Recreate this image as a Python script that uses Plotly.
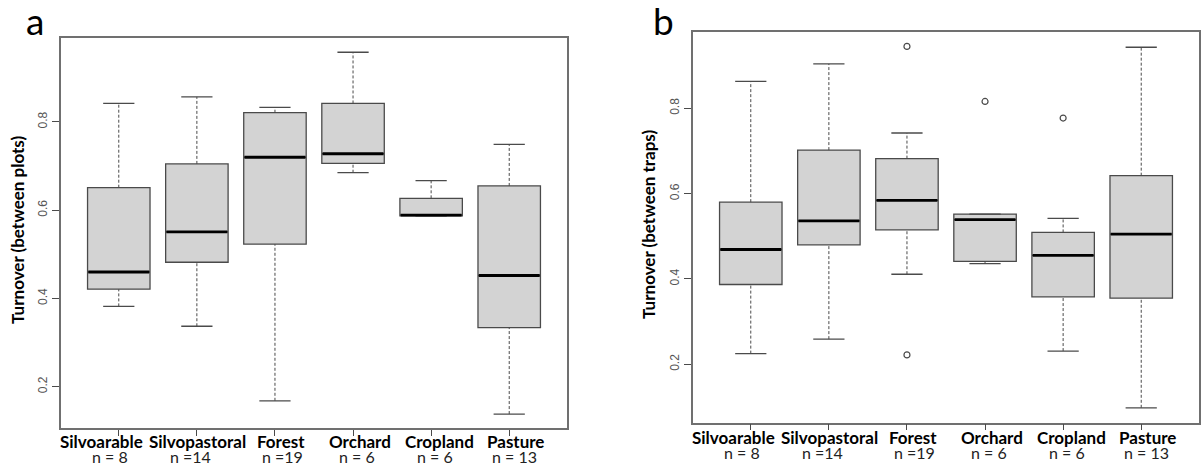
import plotly.graph_objects as go

# ---------------- data ----------------
categories = ["Silvoarable", "Silvopastoral", "Forest", "Orchard", "Cropland", "Pasture"]
n_labels = ["n = 8", "n =14", "n =19", "n = 6", "n = 6", "n = 13"]

# panel a: turnover between plots
a_lower = [0.382, 0.337, 0.168, 0.685, 0.587, 0.138]
a_q1 = [0.421, 0.482, 0.523, 0.706, 0.587, 0.334]
a_median = [0.460, 0.551, 0.720, 0.728, 0.589, 0.452]
a_q3 = [0.651, 0.705, 0.821, 0.842, 0.627, 0.655]
a_upper = [0.842, 0.857, 0.833, 0.958, 0.667, 0.749]

# panel b: turnover between traps
b_lower = [0.225, 0.259, 0.411, 0.436, 0.231, 0.098]
b_q1 = [0.387, 0.480, 0.515, 0.441, 0.358, 0.355]
b_median = [0.469, 0.536, 0.584, 0.539, 0.455, 0.505]
b_q3 = [0.580, 0.702, 0.682, 0.552, 0.509, 0.642]
b_upper = [0.863, 0.904, 0.742, 0.552, 0.542, 0.943]
b_out_cat = ["Forest", "Forest", "Orchard", "Cropland"]
b_out_val = [0.945, 0.222, 0.816, 0.777]

y_ticks = [0.2, 0.4, 0.6, 0.8]

# ---------------- styling ----------------
W, H = 1201, 463
BOX_W = 0.8
CAP_HALF = 0.2
EDGE = "#4a4a4a"
FILL = "#d3d3d3"
FRAME = "#707070"
LABEL_FONT = "Lato"

pos = list(range(1, len(categories) + 1))

fig = go.Figure()


def add_panel(xa, ya, lower, q1, med, q3, upper, out_cat=None, out_val=None):
    # dashed whiskers
    wx, wy = [], []
    for p, lo, a, b, hi in zip(pos, lower, q1, q3, upper):
        wx += [p, p, None, p, p, None]
        wy += [b, hi, None, lo, a, None]
    fig.add_trace(go.Scatter(x=wx, y=wy, mode="lines", xaxis=xa, yaxis=ya,
                             line=dict(color=EDGE, width=1, dash="3px,2px"),
                             hoverinfo="skip", showlegend=False))
    # caps
    cx, cy = [], []
    for p, lo, hi in zip(pos, lower, upper):
        cx += [p - CAP_HALF, p + CAP_HALF, None, p - CAP_HALF, p + CAP_HALF, None]
        cy += [hi, hi, None, lo, lo, None]
    fig.add_trace(go.Scatter(x=cx, y=cy, mode="lines", xaxis=xa, yaxis=ya,
                             line=dict(color=EDGE, width=1.3),
                             hoverinfo="skip", showlegend=False))
    # boxes
    fig.add_trace(go.Box(x=pos, q1=q1, median=med, q3=q3, lowerfence=q1, upperfence=q3,
                         width=BOX_W, xaxis=xa, yaxis=ya, fillcolor=FILL,
                         line=dict(color=EDGE, width=1.3), boxpoints=False,
                         showlegend=False, hoverinfo="skip"))
    # medians
    mx, my = [], []
    for p, m in zip(pos, med):
        mx += [p - BOX_W / 2 + 0.01, p + BOX_W / 2 - 0.01, None]
        my += [m, m, None]
    fig.add_trace(go.Scatter(x=mx, y=my, mode="lines", xaxis=xa, yaxis=ya,
                             line=dict(color="black", width=2.8),
                             hoverinfo="skip", showlegend=False))
    if out_cat:
        fig.add_trace(go.Scatter(x=[categories.index(c) + 1 for c in out_cat], y=out_val,
                                 mode="markers", xaxis=xa, yaxis=ya,
                                 marker=dict(symbol="circle-open", size=6,
                                             color=EDGE, line=dict(width=1.2, color=EDGE)),
                                 hoverinfo="skip", showlegend=False))


add_panel("x", "y", a_lower, a_q1, a_median, a_q3, a_upper)
add_panel("x2", "y2", b_lower, b_q1, b_median, b_q3, b_upper, b_out_cat, b_out_val)

# panel geometry in pixels
panels = {
    "a": dict(x0=61, x1=567, top=37.7, bottom=428.3, yr=[0.1057, 0.991]),
    "b": dict(x0=693, x1=1199, top=32.3, bottom=422.7, yr=[0.0631, 0.978]),
}

xcommon = dict(range=[0.26, 6.74], tickvals=pos, showticklabels=False, ticks="outside",
               ticklen=6, tickcolor=EDGE, tickwidth=1.2, showline=True, mirror=True,
               linecolor=FRAME, linewidth=1.5, showgrid=False, zeroline=False,
               fixedrange=True)
ycommon = dict(tickvals=y_ticks, ticktext=[f"{v:.1f}" for v in y_ticks], ticks="outside",
               ticklen=7, tickcolor=EDGE, tickwidth=1.2, tickangle=-90,
               tickfont=dict(family="Liberation Sans", size=12, color="#555555"),
               showline=True, mirror=True, linecolor=FRAME, linewidth=1.5,
               showgrid=False, zeroline=False, fixedrange=True)

pa, pb = panels["a"], panels["b"]
fig.update_layout(
    width=W, height=H, margin=dict(l=0, r=0, t=0, b=0),
    paper_bgcolor="white", plot_bgcolor="white",
    xaxis=dict(domain=[pa["x0"] / W, pa["x1"] / W], anchor="y", **xcommon),
    yaxis=dict(domain=[1 - pa["bottom"] / H, 1 - pa["top"] / H], anchor="x",
               range=pa["yr"], **ycommon),
    xaxis2=dict(domain=[pb["x0"] / W, pb["x1"] / W], anchor="y2", **xcommon),
    yaxis2=dict(domain=[1 - pb["bottom"] / H, 1 - pb["top"] / H], anchor="x2",
                range=pb["yr"], **ycommon),
)

name_shift = [-17, 1, 6, 7, 8, 6]
n_shift = [-9, -6, 8, 4, 4, 5]
ann = []
for xa, name_y, n_y in (("x", 441, 456), ("x2", 437, 452)):
    for p, c, nl, s1, s2 in zip(pos, categories, n_labels, name_shift, n_shift):
        ann.append(dict(x=p, y=1 - name_y / H, xref=xa, yref="paper", text=f"<b>{c}</b>",
                        showarrow=False, xshift=s1, xanchor="center", yanchor="middle",
                        font=dict(family=LABEL_FONT, size=17, color="black")))
        ann.append(dict(x=p, y=1 - n_y / H, xref=xa, yref="paper", text=nl,
                        showarrow=False, xshift=s2, xanchor="center", yanchor="middle",
                        font=dict(family=LABEL_FONT, size=16, color="#222222")))

# axis titles and panel letters
for text, xc, yc in (("Turnover (between plots)", 17, 230), ("Turnover (between traps)", 648, 225)):
    ann.append(dict(x=xc / W, y=1 - yc / H, xref="paper", yref="paper", text=f"<b>{text}</b>",
                    textangle=-90, showarrow=False, xanchor="center", yanchor="middle",
                    font=dict(family=LABEL_FONT, size=17, color="black")))
for letter, xc in (("a", 35), ("b", 663)):
    ann.append(dict(x=xc / W, y=1 - 20 / H, xref="paper", yref="paper", text=letter,
                    showarrow=False, xanchor="center", yanchor="middle",
                    font=dict(family=LABEL_FONT, size=37, color="black")))

fig.update_layout(annotations=ann)

fig.write_html("out.html", config={"displayModeBar": False},
               post_script="document.body.style.margin='0';document.body.style.overflow='hidden';")
